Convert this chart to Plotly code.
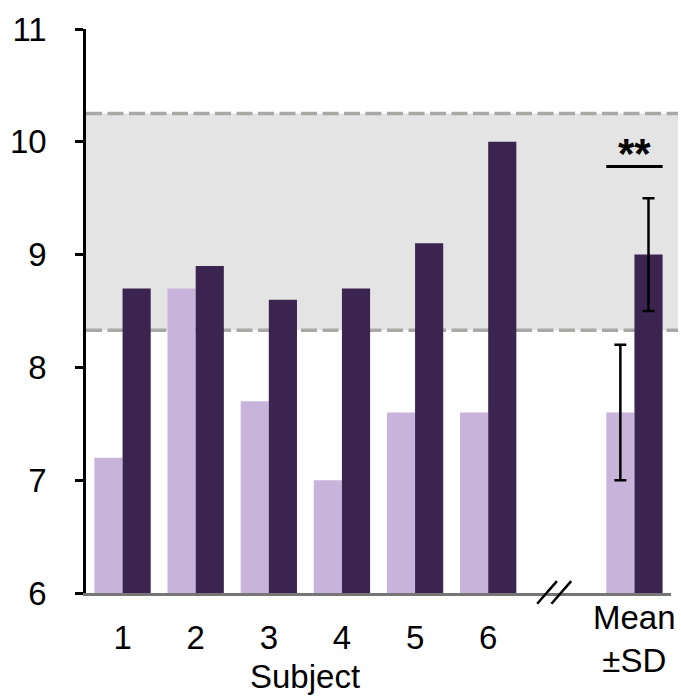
import plotly.graph_objects as go

# Per-subject values for the two conditions
subjects = [1, 2, 3, 4, 5, 6]
subject_labels = ["1", "2", "3", "4", "5", "6"]
before = [7.2, 8.7, 7.7, 7.0, 7.6, 7.6]
after = [8.7, 8.9, 8.6, 8.7, 9.1, 10.0]

# Group summary (mean ± SD), shown at its own slot after an axis break
mean_pos = 8
mean_before, sd_before = 7.6, 0.6
mean_after, sd_after = 9.0, 0.5

# Reference range drawn as a shaded band
band_low, band_high = 8.33, 10.25

y_ticks = [6, 7, 8, 9, 10, 11]
x_range = [0.5, 8.5]
break_pos = 6.9

LIGHT = "#C8B3DB"
DARK = "#3C2450"
FONT = "Liberation Sans, Arial, sans-serif"
FS = 33

fig = go.Figure()

fig.add_bar(x=subjects, y=before, marker_color=LIGHT, marker_line_width=0,
            offsetgroup="a", showlegend=False)
fig.add_bar(x=subjects, y=after, marker_color=DARK, marker_line_width=0,
            offsetgroup="b", showlegend=False)
fig.add_bar(x=[mean_pos], y=[mean_before], marker_color=LIGHT, marker_line_width=0,
            offsetgroup="a", showlegend=False,
            error_y=dict(type="data", array=[sd_before], color="black",
                         thickness=2.5, width=6))
fig.add_bar(x=[mean_pos], y=[mean_after], marker_color=DARK, marker_line_width=0,
            offsetgroup="b", showlegend=False,
            error_y=dict(type="data", array=[sd_after], color="black",
                         thickness=2.5, width=6))

bargap = 0.23
half_group = (1 - bargap) / 2

shapes = [
    # shaded reference band
    dict(type="rect", xref="paper", yref="y", x0=0, x1=1.012,
         y0=band_low, y1=band_high, fillcolor="#E4E4E4", line_width=0,
         layer="below"),
    dict(type="line", xref="paper", yref="y", x0=0, x1=1.012,
         y0=band_low, y1=band_low, layer="below",
         line=dict(color="#A8A8A4", width=3.5, dash="16px,5.5px")),
    dict(type="line", xref="paper", yref="y", x0=0, x1=1.012,
         y0=band_high, y1=band_high, layer="below",
         line=dict(color="#A8A8A4", width=3.5, dash="16px,5.5px")),
    # significance bar over the summary pair
    dict(type="line", xref="x", yref="y", x0=mean_pos - half_group,
         x1=mean_pos + half_group, y0=9.78, y1=9.78,
         line=dict(color="black", width=3)),
]

# axis-break marker "//"
for dx in (-0.095, 0.1):
    c = break_pos + dx
    shapes.append(dict(type="line", xref="x", yref="paper",
                       x0=c - 0.135, x1=c + 0.135, y0=-0.019, y1=0.021,
                       line=dict(color="black", width=2.5)))

annotations = [
    dict(x=mean_pos, y=9.78, xref="x", yref="y", text="<b>**</b>",
         showarrow=False, yanchor="bottom", yshift=-12,
         font=dict(family=FONT, size=42, color="black")),
    dict(x=mean_pos, y=0, xref="x", yref="paper", text="Mean<br>±SD",
         showarrow=False, yanchor="top", yshift=-4,
         font=dict(family=FONT, size=FS, color="black")),
    dict(x=3.5, y=0, xref="x", yref="paper", text="Subject",
         showarrow=False, yanchor="top", yshift=-63,
         font=dict(family=FONT, size=FS, color="black")),
]

fig.update_layout(
    width=681, height=696,
    margin=dict(l=80, r=10, t=29, b=103),
    paper_bgcolor="white", plot_bgcolor="white",
    barmode="group", bargap=bargap, bargroupgap=0,
    shapes=shapes, annotations=annotations,
    font=dict(family=FONT, size=FS, color="black"),
    xaxis=dict(range=x_range, tickmode="array", tickvals=subjects,
               ticktext=subject_labels, ticks="", showgrid=False,
               zeroline=False, showline=True, linecolor="#767676",
               linewidth=2.5, ticklabelstandoff=14,
               tickfont=dict(family=FONT, size=FS, color="black")),
    yaxis=dict(range=[6, 11], tickmode="array", tickvals=y_ticks,
               ticks="outside", ticklen=8, tickwidth=2.5, tickcolor="black",
               showgrid=False, zeroline=False, showline=True,
               linecolor="black", linewidth=2.5, ticklabelstandoff=22,
               tickfont=dict(family=FONT, size=FS, color="black")),
)

fig.write_html("out.html")
